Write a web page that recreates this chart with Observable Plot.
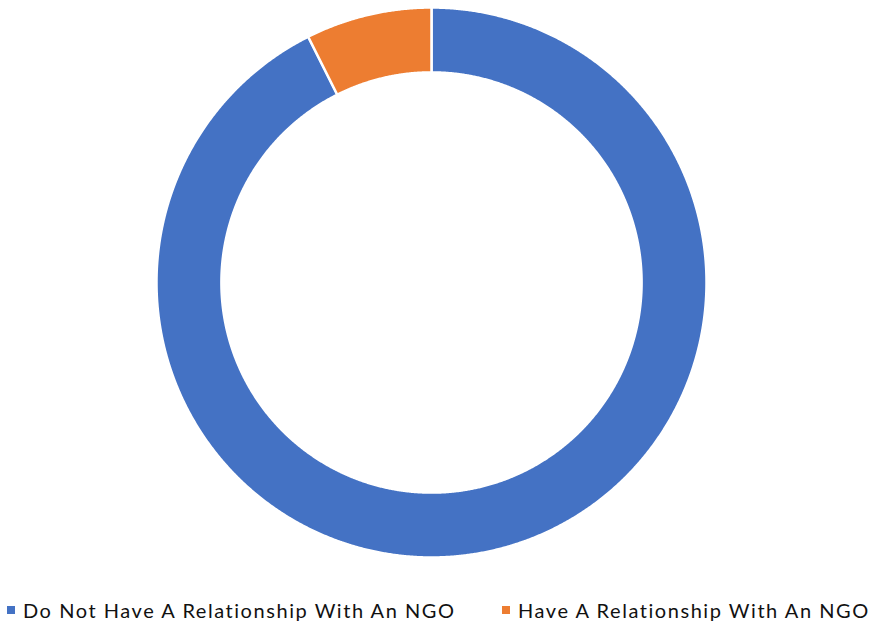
<!DOCTYPE html>
<html>
<head>
<meta charset="utf-8">
<script src="https://cdn.jsdelivr.net/npm/d3@7"></script>
<script src="https://cdn.jsdelivr.net/npm/@observablehq/plot@0.6"></script>
<style>
  html, body { margin: 0; padding: 0; background: #fff; }
  #wrap { position: relative; width: 870px; height: 623px; overflow: hidden; }
  #chart { position: absolute; left: 0; top: 0; }
  .lg { position: absolute; top: 597px; height: 26px; display: flex; align-items: center; font-family: Lato, "Open Sans", sans-serif; font-size: 20px; letter-spacing: 1.55px; color: #111; white-space: nowrap; }
  .sw { width: 8px; height: 8px; margin-right: 8px; }
</style>
</head>
<body>
<div id="wrap"><div id="chart"></div></div>
<script>
const categories = ["Do Not Have A Relationship With An NGO", "Have A Relationship With An NGO"];
const values = [92.6, 7.4];
const colors = ["#4472C4", "#ED7D31"];

const innerRatio = 0.764;
const pie = d3.pie().sort(null).value(d => d.value)(categories.map((c, i) => ({cat: c, value: values[i]})));

// Build ring-segment outlines (geometry only) from pie angles
const pts = [];
const stepDeg = 0.25 * Math.PI / 180;
for (const p of pie) {
  const n = Math.max(2, Math.ceil((p.endAngle - p.startAngle) / stepDeg));
  for (let k = 0; k <= n; k++) {
    const a = p.startAngle + (p.endAngle - p.startAngle) * k / n;
    pts.push({cat: p.data.cat, x: Math.sin(a), y: Math.cos(a)});
  }
  for (let k = n; k >= 0; k--) {
    const a = p.startAngle + (p.endAngle - p.startAngle) * k / n;
    pts.push({cat: p.data.cat, x: Math.sin(a) * innerRatio, y: Math.cos(a) * innerRatio});
  }
  const a0 = p.startAngle;
  pts.push({cat: p.data.cat, x: Math.sin(a0), y: Math.cos(a0)});
}

const chart = Plot.plot({
  width: 870,
  height: 565,
  marginLeft: 156,
  marginRight: 164,
  marginTop: 7,
  marginBottom: 8,
  x: {domain: [-1, 1], axis: null},
  y: {domain: [-1, 1], axis: null},
  color: {domain: categories, range: colors},
  marks: [
    Plot.line(pts, {x: "x", y: "y", z: "cat", fill: "cat", stroke: "white", strokeWidth: 2.5, curve: "linear"})
  ]
});
document.getElementById("chart").appendChild(chart);

const legendLeft = [7, 502];
const wrap = document.getElementById("wrap");
categories.forEach((c, i) => {
  const d = document.createElement("div");
  d.className = "lg";
  d.style.left = legendLeft[i] + "px";
  const s = document.createElement("span");
  s.className = "sw";
  s.style.background = chart.scale("color").apply(c);
  const t = document.createElement("span");
  t.textContent = c;
  d.appendChild(s); d.appendChild(t);
  wrap.appendChild(d);
});
</script>
</body>
</html>
